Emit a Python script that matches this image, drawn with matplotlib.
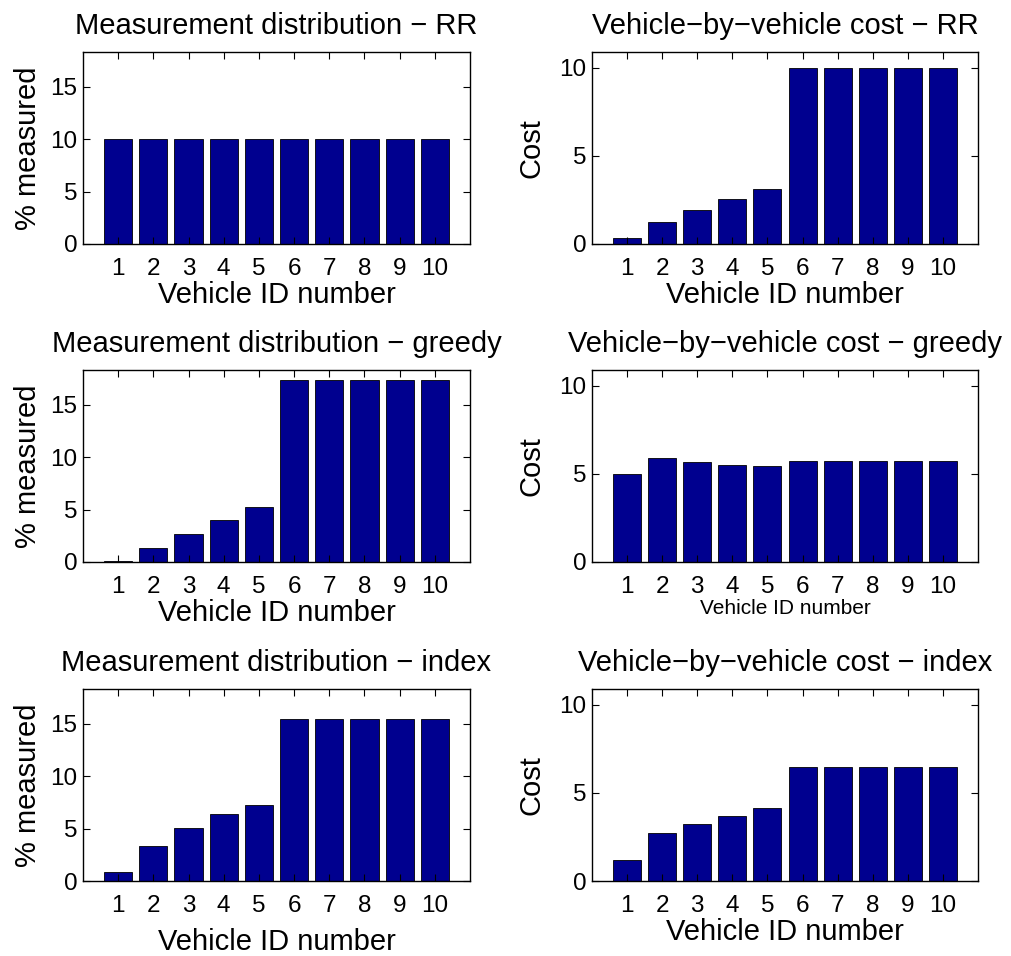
import matplotlib
matplotlib.use("Agg")
import matplotlib.pyplot as plt

plt.rcParams['font.family'] = ['Liberation Sans', 'DejaVu Sans']

vehicles = [1, 2, 3, 4, 5, 6, 7, 8, 9, 10]

# % of measurements per vehicle
meas_rr = [10, 10, 10, 10, 10, 10, 10, 10, 10, 10]
meas_greedy = [0.12, 1.3, 2.63, 3.96, 5.27, 17.34, 17.34, 17.34, 17.34, 17.34]
meas_index = [0.86, 3.34, 5.06, 6.34, 7.2, 15.44, 15.44, 15.44, 15.44, 15.44]

# cost per vehicle
cost_rr = [0.32, 1.27, 1.93, 2.54, 3.1, 9.98, 9.98, 9.98, 9.98, 9.98]
cost_greedy = [5.0, 5.88, 5.65, 5.53, 5.47, 5.72, 5.75, 5.75, 5.75, 5.75]
cost_index = [1.21, 2.73, 3.24, 3.69, 4.13, 6.46, 6.46, 6.46, 6.46, 6.46]

methods = ['RR', 'greedy', 'index']
meas = [meas_rr, meas_greedy, meas_index]
cost = [cost_rr, cost_greedy, cost_index]

bar_color = '#00008f'
tick_fs = 17.5
label_fs = 21

fig = plt.figure(figsize=(10.11, 9.56), dpi=100)

W, H = 1011, 956
cols = [(83, 387), (592, 386)]
rows = [(52, 244), (370, 562), (689, 881)]


def style(ax, ymax):
    ax.set_xlim(0, 11)
    ax.set_ylim(0, ymax)
    ax.set_xticks(vehicles)
    ax.tick_params(direction='in', length=5, width=0.8, top=True, right=True,
                   labelsize=tick_fs)
    ax.tick_params(axis='x', pad=10)
    ax.tick_params(axis='y', pad=4)
    for s in ax.spines.values():
        s.set_linewidth(1.0)


for r, m in enumerate(methods):
    y0, y1 = rows[r]
    bottom = 1 - y1 / H
    height = (y1 - y0) / H

    # left: measurement distribution
    x0, w = cols[0]
    ax = fig.add_axes([x0 / W, bottom, w / W, height])
    ax.bar(vehicles, meas[r], width=0.8, color=bar_color, edgecolor='black', linewidth=0.6)
    style(ax, 18.3)
    ax.set_yticks([0, 5, 10, 15])
    ax.set_title('Measurement distribution \u2212 ' + m, fontsize=label_fs, pad=13)
    ax.set_ylabel('% measured', fontsize=label_fs, labelpad=6)
    ax.set_xlabel('Vehicle ID number', fontsize=label_fs, labelpad=8 if r == 2 else 1)

    # right: per-vehicle cost
    x0, w = cols[1]
    ax = fig.add_axes([x0 / W, bottom, w / W, height])
    ax.bar(vehicles, cost[r], width=0.8, color=bar_color, edgecolor='black', linewidth=0.6)
    style(ax, 10.9)
    ax.set_yticks([0, 5, 10])
    ax.set_title('Vehicle\u2212by\u2212vehicle cost \u2212 ' + m, fontsize=label_fs, pad=13)
    ax.set_ylabel('Cost', fontsize=label_fs, labelpad=10)
    ax.set_xlabel('Vehicle ID number', fontsize=15 if r == 1 else label_fs, labelpad=1)

fig.savefig('out.png', dpi=100)
